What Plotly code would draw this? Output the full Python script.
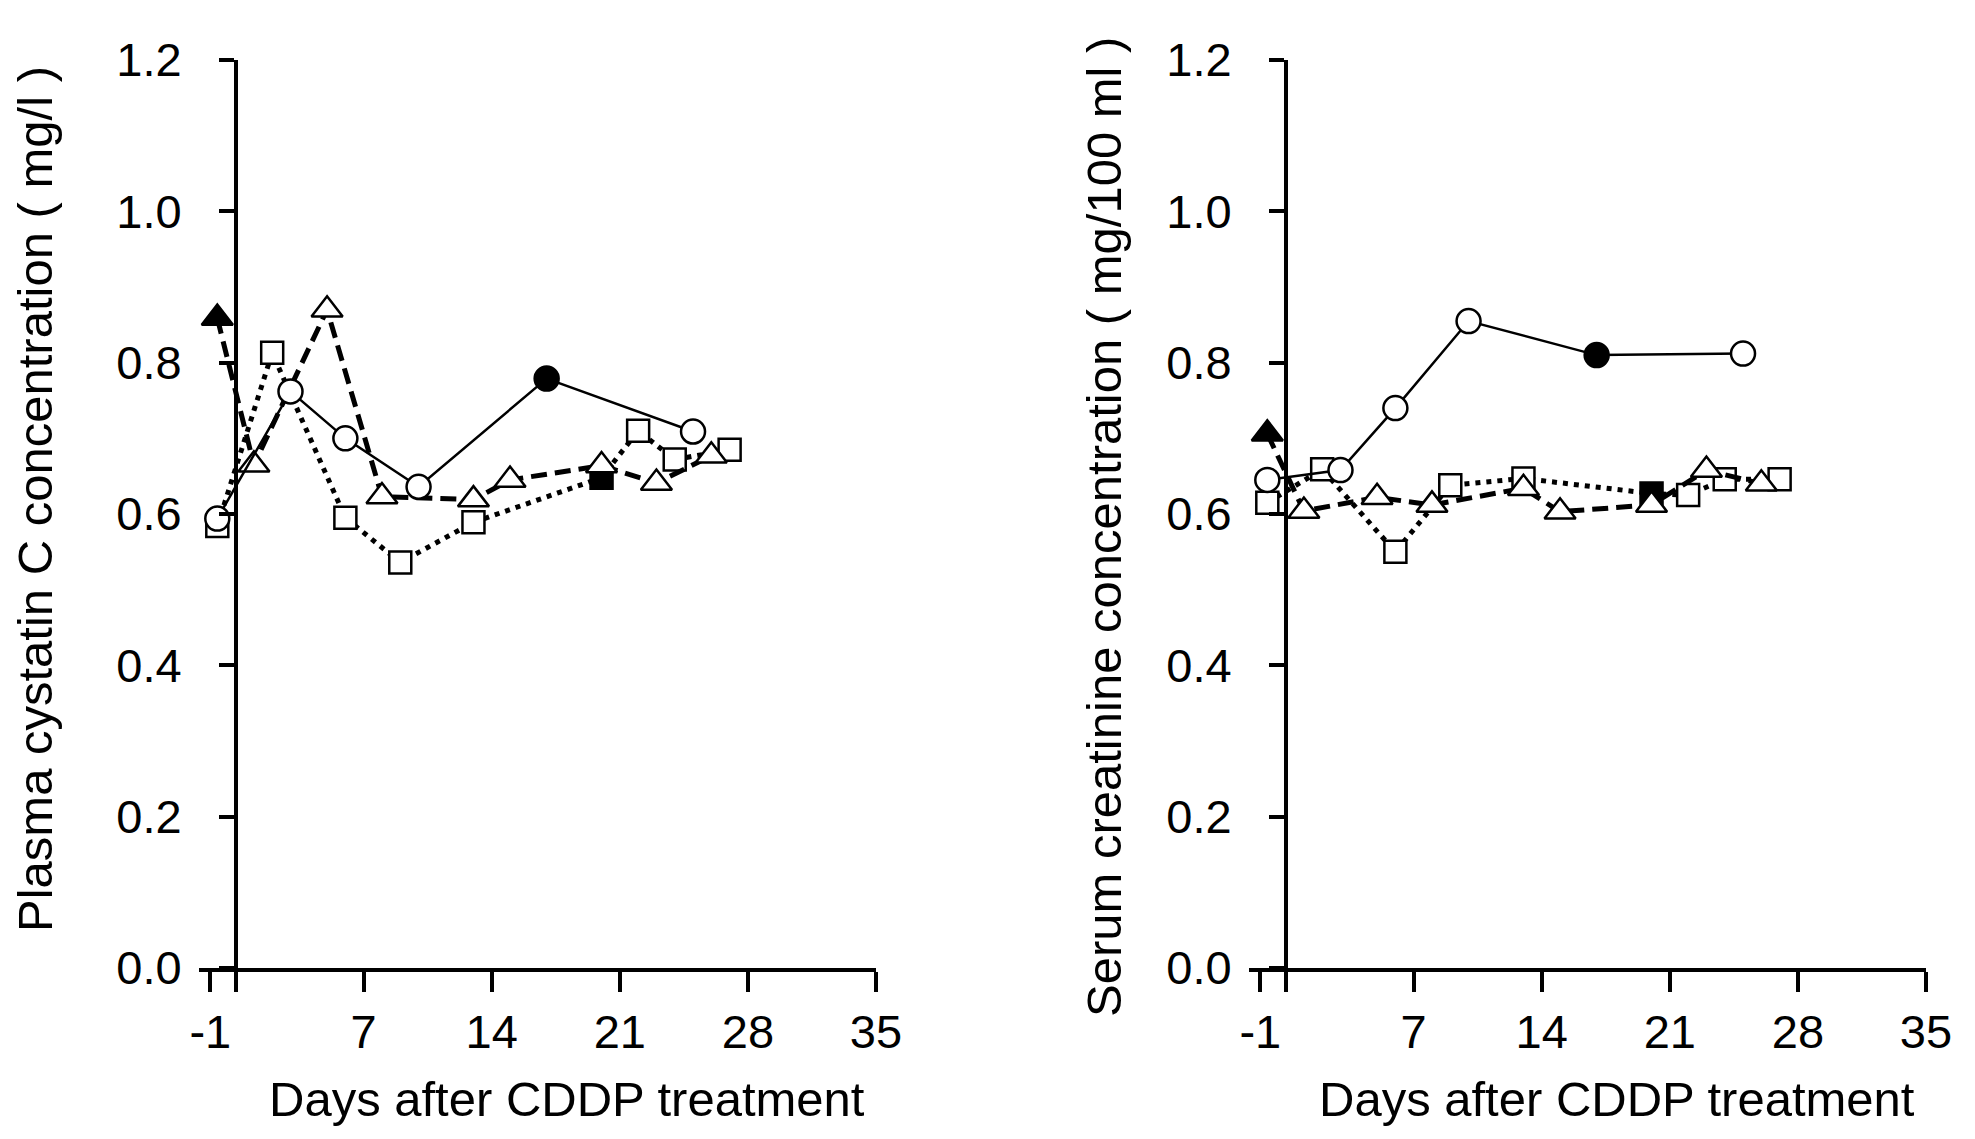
import plotly.graph_objects as go

# days after CDDP treatment for each animal
circle_days = [-1, 3, 6, 10, 17, 25]
triangle_days = [-1, 1, 5, 8, 13, 15, 20, 23, 26]
square_days = [-1, 2, 6, 9, 13, 20, 22, 24, 27]

# plasma cystatin C (mg/l)
cys_circle = [0.594, 0.762, 0.700, 0.636, 0.779, 0.709]
cys_triangle = [0.859, 0.665, 0.870, 0.623, 0.619, 0.645, 0.664, 0.641, 0.677]
cys_square = [0.584, 0.813, 0.595, 0.536, 0.589, 0.648, 0.710, 0.672, 0.685]

# serum creatinine (mg/100 ml)
cre_circle = [0.645, 0.658, 0.740, 0.855, 0.810, 0.812]
cre_triangle = [0.706, 0.604, 0.622, 0.612, 0.634, 0.603, 0.612, 0.658, 0.640]
cre_square = [0.615, 0.659, 0.550, 0.638, 0.647, 0.627, 0.625, 0.646, 0.646]

# index of the filled (black) point in each series
filled_circle = 4
filled_triangle = 0
filled_square = 5

x_tickvals = [-1.38, 0, 7, 14, 21, 28, 35]
x_ticktext = ["-1", "", "7", "14", "21", "28", "35"]
y_tickvals = [0, 0.2, 0.4, 0.6, 0.8, 1.0, 1.2]

# page has an 8px body margin, so the figure is a bit smaller and offset
OFF = 8
W, H = 1975 - 2 * OFF, 1139 - 2 * OFF
FONT = "Liberation Sans, Arial, sans-serif"


def fills(n, idx):
    return ["black" if i == idx else "white" for i in range(n)]


def px_x(p):
    return (p - OFF) / W


def px_y(p):
    return 1 - (p - OFF) / H


fig = go.Figure()

panels = [
    ("x", "y", cys_circle, cys_triangle, cys_square),
    ("x2", "y2", cre_circle, cre_triangle, cre_square),
]

for xa, ya, circ, tri, sq in panels:
    fig.add_trace(go.Scatter(
        x=square_days, y=sq, xaxis=xa, yaxis=ya, mode="lines+markers",
        line=dict(color="black", width=5, dash="5px,6px"),
        marker=dict(symbol="square", size=22, color=fills(len(sq), filled_square),
                    line=dict(color="black", width=2.5)),
        showlegend=False))
    fig.add_trace(go.Scatter(
        x=triangle_days, y=tri, xaxis=xa, yaxis=ya, mode="lines+markers",
        line=dict(color="black", width=5, dash="16px,8px"),
        marker=dict(symbol="triangle-up", size=27, color=fills(len(tri), filled_triangle),
                    line=dict(color="black", width=2.5)),
        showlegend=False))
    fig.add_trace(go.Scatter(
        x=circle_days, y=circ, xaxis=xa, yaxis=ya, mode="lines+markers",
        line=dict(color="black", width=2.5),
        marker=dict(symbol="circle", size=24, color=fills(len(circ), filled_circle),
                    line=dict(color="black", width=2.5)),
        showlegend=False))

xaxis_style = dict(
    range=[-2, 35], showgrid=False, zeroline=False, showline=True, automargin=False,
    linecolor="black", linewidth=4, ticks="outside", ticklen=20, tickwidth=4,
    tickcolor="black", tickvals=x_tickvals, ticktext=x_ticktext,
    tickfont=dict(family=FONT, size=47, color="black"))
yaxis_style = dict(
    range=[0, 1.2], showgrid=False, zeroline=False, showline=True, automargin=False,
    linecolor="black", linewidth=4, ticks="outside", ticklen=15, tickwidth=4,
    tickcolor="black", tickvals=y_tickvals, tickformat=".1f", ticklabelstandoff=28,
    tickfont=dict(family=FONT, size=47, color="black"),
    domain=[px_y(968), px_y(60)], anchor="free")

fig.update_layout(
    width=W, height=H, margin=dict(l=0, r=0, t=0, b=0, autoexpand=False),
    paper_bgcolor="white", plot_bgcolor="white",
    xaxis=dict(xaxis_style, domain=[px_x(199), px_x(876)], anchor="y"),
    yaxis=dict(yaxis_style, position=px_x(236)),
    xaxis2=dict(xaxis_style, domain=[px_x(1249), px_x(1926)], anchor="y2"),
    yaxis2=dict(yaxis_style, position=px_x(1286)),
)

titles = [
    ("Plasma cystatin C concentration ( mg/l )", 35, 499, -90),
    ("Serum creatinine concentration ( mg/100 ml )", 1104, 527, -90),
    ("Days after CDDP treatment", 567, 1099, 0),
    ("Days after CDDP treatment", 1617, 1099, 0),
]
for text, cx, cy, angle in titles:
    fig.add_annotation(
        text=text, x=px_x(cx), y=px_y(cy), xref="paper", yref="paper",
        showarrow=False, textangle=angle, xanchor="center", yanchor="middle",
        font=dict(family=FONT, size=49, color="black"))

fig.write_html("out.html")
